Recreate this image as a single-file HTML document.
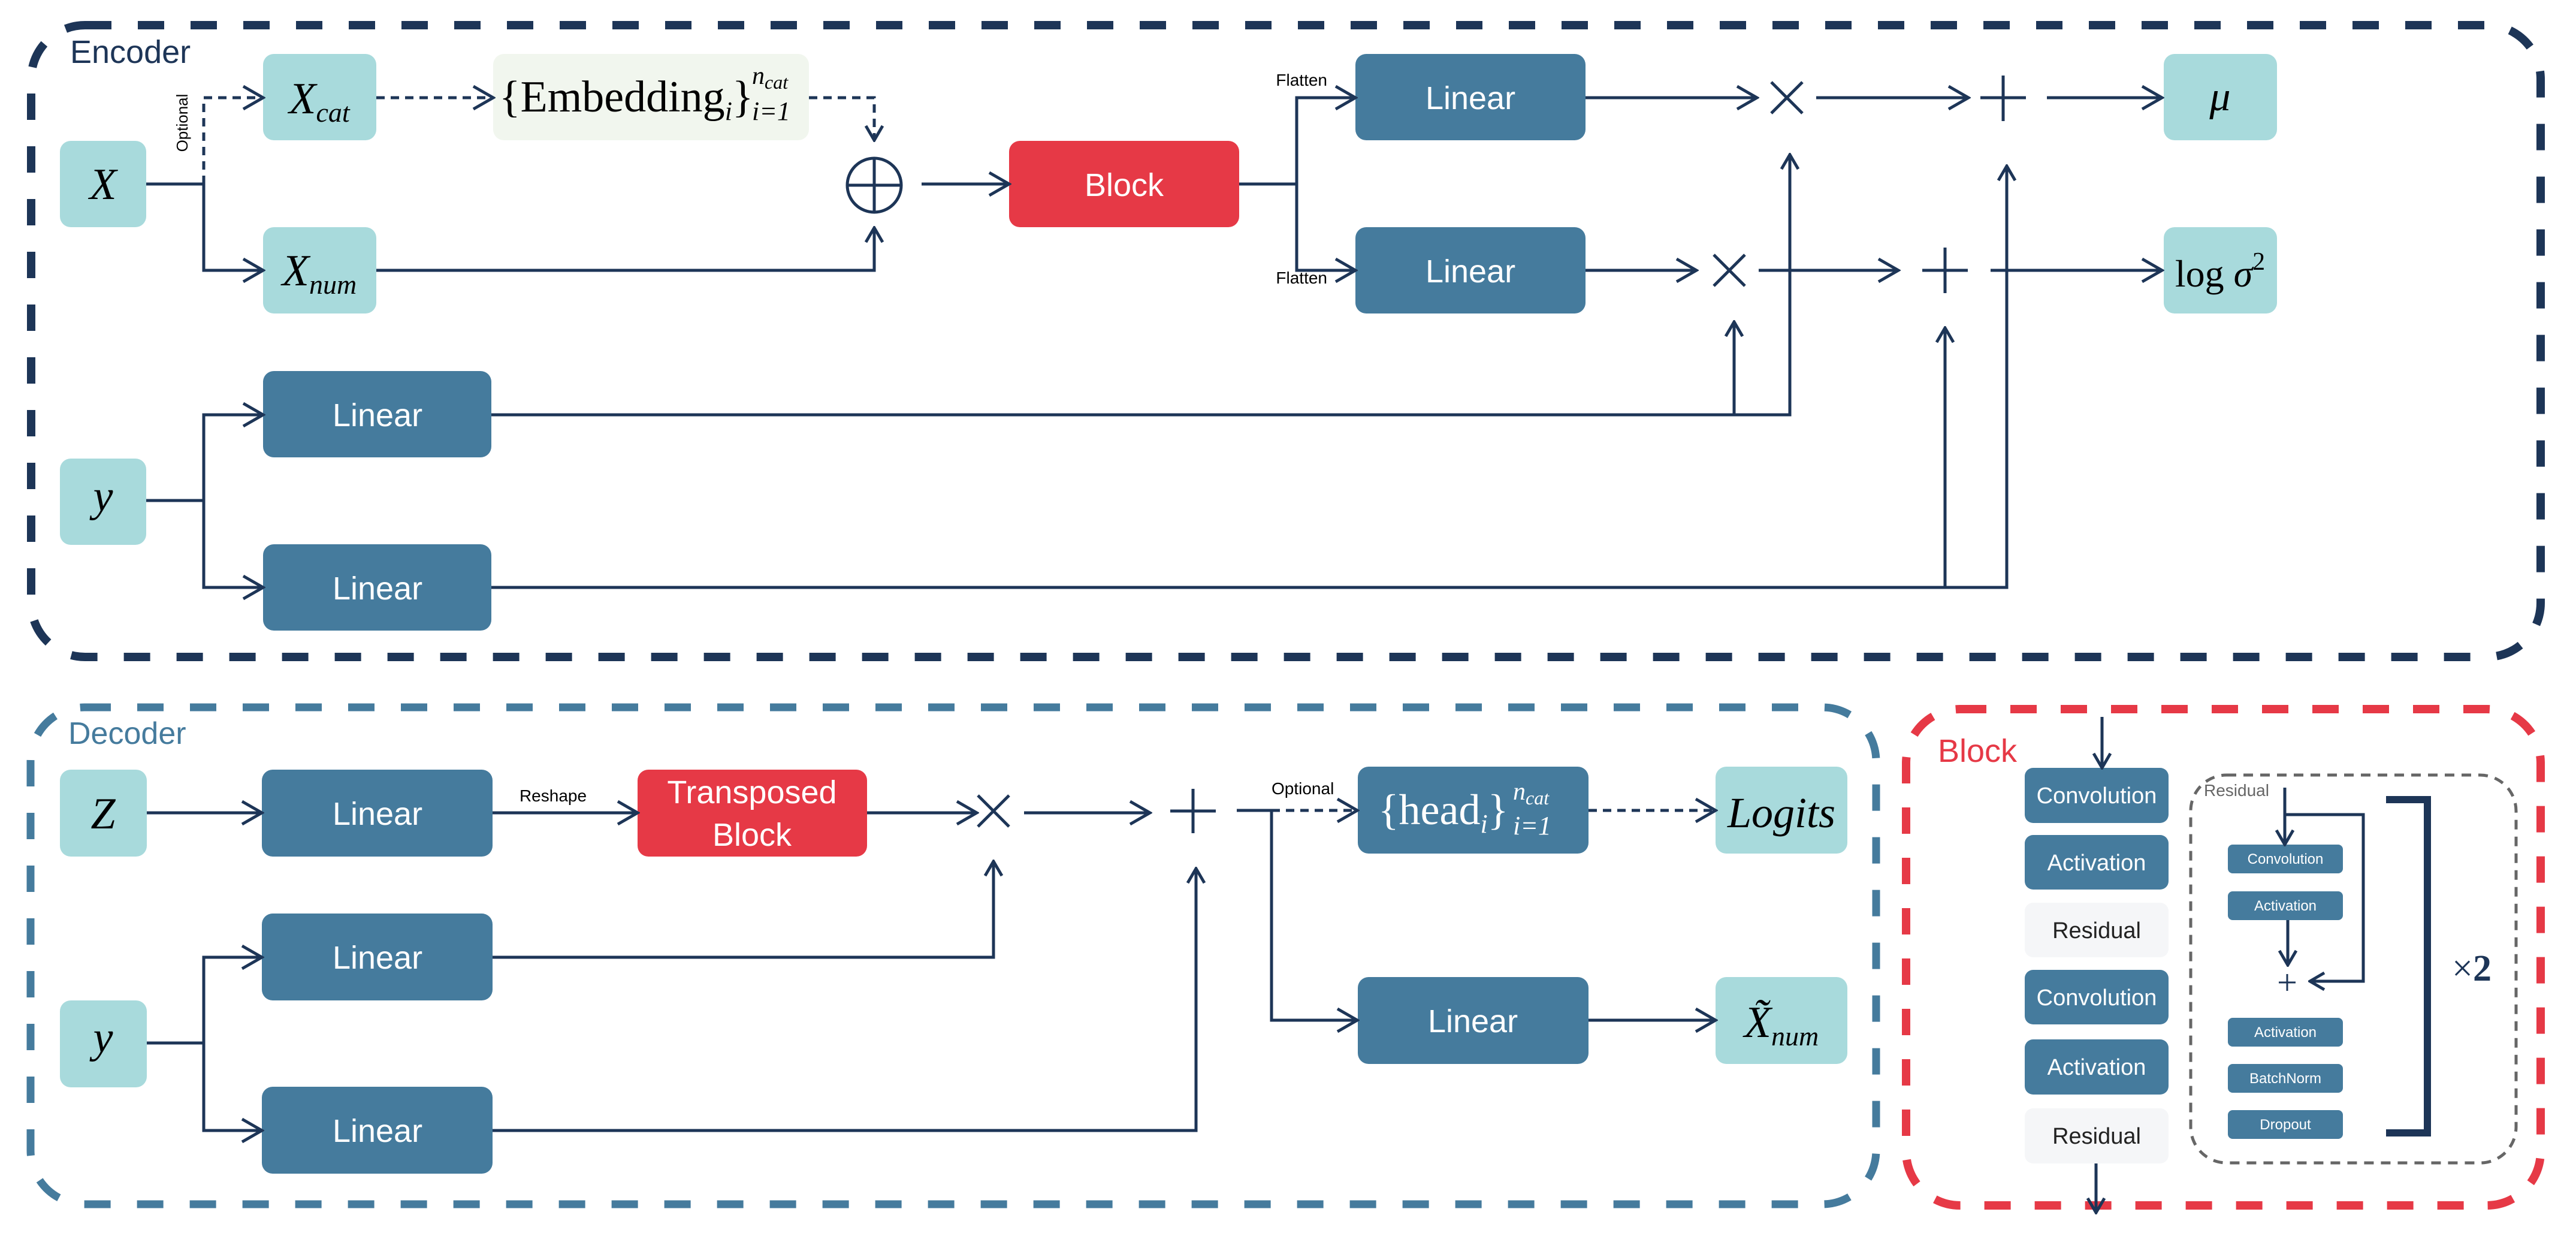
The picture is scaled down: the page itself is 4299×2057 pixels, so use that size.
<!DOCTYPE html>
<html><head><meta charset="utf-8"><style>html,body{margin:0;padding:0;background:#fff}svg{display:block}</style></head>
<body>
<svg xmlns="http://www.w3.org/2000/svg" width="4299" height="2057" viewBox="0 0 4299 2057">
<defs>
<marker id="a" markerUnits="userSpaceOnUse" markerWidth="40" markerHeight="44" viewBox="0 0 40 44" refX="36" refY="22" orient="auto">
<path d="M3,3 L36,22 L3,41" fill="none" stroke="#1D3557" stroke-width="5"/>
</marker>
<marker id="s" markerUnits="userSpaceOnUse" markerWidth="30" markerHeight="34" viewBox="0 0 30 34" refX="27" refY="17" orient="auto">
<path d="M3,3 L27,17 L3,31" fill="none" stroke="#1D3557" stroke-width="5"/>
</marker>
</defs>
<g font-family="Liberation Sans, sans-serif">
<!-- Encoder -->
<rect x="52" y="42" width="4188" height="1054" rx="90" fill="none" stroke="#1D3557" stroke-width="14" stroke-dasharray="44 44"/>
<text x="117" y="105" font-size="54" fill="#1D3557">Encoder</text>

<g fill="#A8DADC">
<rect x="100" y="235" width="144" height="144" rx="18"/>
<rect x="439" y="90" width="189" height="144" rx="18"/>
<rect x="439" y="379" width="189" height="144" rx="18"/>
<rect x="100" y="765" width="144" height="144" rx="18"/>
<rect x="3611" y="90" width="189" height="144" rx="18"/>
<rect x="3611" y="379" width="189" height="144" rx="18"/>
</g>
<rect x="823" y="90" width="527" height="144" rx="18" fill="#F1F6EE"/>
<rect x="1684" y="235" width="384" height="144" rx="18" fill="#E63946"/>
<g fill="#457B9D">
<rect x="2262" y="90" width="384" height="144" rx="18"/>
<rect x="2262" y="379" width="384" height="144" rx="18"/>
<rect x="439" y="619" width="381" height="144" rx="18"/>
<rect x="439" y="908" width="381" height="144" rx="18"/>
</g>

<g font-family="Liberation Serif, serif" fill="#000" text-anchor="middle">
<text x="172" y="332" font-size="74" font-style="italic">X</text>
<text x="533" y="189" font-size="74"><tspan font-style="italic">X</tspan><tspan font-size="46" font-style="italic" dy="14">cat</tspan></text>
<text x="533" y="476" font-size="74"><tspan font-style="italic">X</tspan><tspan font-size="46" font-style="italic" dy="14">num</tspan></text>
<text x="172" y="852" font-size="74" font-style="italic">y</text>
<text x="3705" y="184" font-size="70" font-style="italic">μ</text>
<text x="3705" y="478" font-size="64">log <tspan font-style="italic">σ</tspan><tspan font-size="42" dy="-28">2</tspan></text>
</g>
<g font-family="Liberation Serif, serif" fill="#000">
<text x="833" y="186" font-size="74">{Embedding<tspan font-size="44" font-style="italic" dy="14">i</tspan><tspan dy="-14">}</tspan></text>
<text x="1255" y="140" font-size="42" font-style="italic">n<tspan font-size="32" dy="8">cat</tspan></text>
<text x="1255" y="200" font-size="44" font-style="italic">i=1</text>
</g>
<text x="1876" y="327" font-size="54" fill="#fff" text-anchor="middle">Block</text>
<g font-size="54" fill="#fff" text-anchor="middle">
<text x="2454" y="182">Linear</text>
<text x="2454" y="471">Linear</text>
<text x="630" y="711">Linear</text>
<text x="630" y="1000">Linear</text>
</g>
<text transform="translate(313,205) rotate(-90)" font-size="26" text-anchor="middle" fill="#000">Optional</text>
<text x="2215" y="143" font-size="28" text-anchor="end" fill="#000">Flatten</text>
<text x="2215" y="473" font-size="28" text-anchor="end" fill="#000">Flatten</text>

<g stroke="#1D3557" stroke-width="5" fill="none">
<line x1="244" y1="307" x2="340" y2="307"/>
<polyline points="340,307 340,451 439,451" marker-end="url(#a)"/>
<polyline points="340,307 340,163 439,163" stroke-dasharray="14 10" marker-end="url(#a)"/>
<line x1="628" y1="163" x2="823" y2="163" stroke-dasharray="14 10" marker-end="url(#a)"/>
<polyline points="1350,163 1459,163 1459,234" stroke-dasharray="14 10" marker-end="url(#s)"/>
<circle cx="1459" cy="309" r="45"/>
<line x1="1414" y1="309" x2="1504" y2="309"/>
<line x1="1459" y1="264" x2="1459" y2="354"/>
<polyline points="628,451 1459,451 1459,380" marker-end="url(#s)"/>
<line x1="1538" y1="307" x2="1684" y2="307" marker-end="url(#a)"/>
<line x1="2068" y1="307" x2="2164" y2="307"/>
<polyline points="2164,307 2164,163 2262,163" marker-end="url(#a)"/>
<polyline points="2164,307 2164,451 2262,451" marker-end="url(#a)"/>
<line x1="2646" y1="163" x2="2932" y2="163" marker-end="url(#a)"/>
<line x1="2956" y1="137" x2="3008" y2="189"/><line x1="3008" y1="137" x2="2956" y2="189"/>
<line x1="3031" y1="163" x2="3285" y2="163" marker-end="url(#a)"/>
<line x1="3305" y1="163" x2="3381" y2="163"/><line x1="3343" y1="126" x2="3343" y2="202"/>
<line x1="3416" y1="163" x2="3608" y2="163" marker-end="url(#a)"/>
<line x1="2646" y1="451" x2="2831" y2="451" marker-end="url(#a)"/>
<line x1="2860" y1="425" x2="2912" y2="477"/><line x1="2912" y1="425" x2="2860" y2="477"/>
<line x1="2935" y1="451" x2="3168" y2="451" marker-end="url(#a)"/>
<line x1="3208" y1="451" x2="3284" y2="451"/><line x1="3246" y1="413" x2="3246" y2="489"/>
<line x1="3322" y1="451" x2="3608" y2="451" marker-end="url(#a)"/>
<line x1="244" y1="835" x2="340" y2="835"/>
<polyline points="340,835 340,692 439,692" marker-end="url(#a)"/>
<polyline points="340,835 340,980 439,980" marker-end="url(#a)"/>
<polyline points="820,692 2987,692 2987,258" marker-end="url(#s)"/>
<polyline points="2894,692 2894,537" marker-end="url(#s)"/>
<polyline points="820,980 3349,980 3349,277" marker-end="url(#s)"/>
<polyline points="3246,980 3246,547" marker-end="url(#s)"/>
</g>

<!-- Decoder -->
<rect x="51" y="1180" width="3080" height="829" rx="90" fill="none" stroke="#457B9D" stroke-width="13" stroke-dasharray="44 44"/>
<text x="114" y="1241" font-size="52" fill="#457B9D">Decoder</text>
<g fill="#A8DADC">
<rect x="100" y="1284" width="145" height="145" rx="18"/>
<rect x="100" y="1669" width="145" height="145" rx="18"/>
<rect x="2863" y="1279" width="220" height="145" rx="18"/>
<rect x="2863" y="1630" width="220" height="145" rx="18"/>
</g>
<g fill="#457B9D">
<rect x="437" y="1284" width="385" height="145" rx="18"/>
<rect x="437" y="1524" width="385" height="145" rx="18"/>
<rect x="437" y="1813" width="385" height="145" rx="18"/>
<rect x="2266" y="1279" width="385" height="145" rx="18"/>
<rect x="2266" y="1630" width="385" height="145" rx="18"/>
</g>
<rect x="1064" y="1284" width="383" height="145" rx="18" fill="#E63946"/>
<g font-size="54" fill="#fff" text-anchor="middle">
<text x="630" y="1376">Linear</text>
<text x="630" y="1616">Linear</text>
<text x="630" y="1905">Linear</text>
<text x="2458" y="1722">Linear</text>
<text x="1255" y="1340">Transposed</text>
<text x="1255" y="1411">Block</text>
</g>
<g font-family="Liberation Serif, serif" text-anchor="middle">
<text x="172" y="1382" font-size="74" font-style="italic">Z</text>
<text x="172" y="1755" font-size="74" font-style="italic">y</text>
<text x="2973" y="1380" font-size="72" font-style="italic">Logits</text>
<text x="2973" y="1730" font-size="74"><tspan font-style="italic">X̃</tspan><tspan font-size="46" font-style="italic" dy="14">num</tspan></text>
</g>
<g font-family="Liberation Serif, serif" fill="#fff">
<text x="2300" y="1375" font-size="72">{head<tspan font-size="44" font-style="italic" dy="14">i</tspan><tspan dy="-14">}</tspan></text>
<text x="2525" y="1334" font-size="42" font-style="italic">n<tspan font-size="32" dy="8">cat</tspan></text>
<text x="2525" y="1392" font-size="44" font-style="italic">i=1</text>
</g>
<text x="923" y="1337" font-size="28" text-anchor="middle" fill="#000">Reshape</text>
<text x="2122" y="1325" font-size="28" fill="#000">Optional</text>
<g stroke="#1D3557" stroke-width="5" fill="none">
<line x1="245" y1="1356" x2="437" y2="1356" marker-end="url(#a)"/>
<line x1="822" y1="1356" x2="1064" y2="1356" marker-end="url(#a)"/>
<line x1="1447" y1="1356" x2="1630" y2="1356" marker-end="url(#a)"/>
<line x1="1632" y1="1327" x2="1684" y2="1379"/><line x1="1684" y1="1327" x2="1632" y2="1379"/>
<line x1="1709" y1="1356" x2="1919" y2="1356" marker-end="url(#a)"/>
<line x1="1953" y1="1353" x2="2029" y2="1353"/><line x1="1991" y1="1316" x2="1991" y2="1390"/>
<line x1="2064" y1="1352" x2="2122" y2="1352"/>
<line x1="2122" y1="1352" x2="2265" y2="1352" stroke-dasharray="14 10" marker-end="url(#a)"/>
<line x1="2651" y1="1352" x2="2863" y2="1352" stroke-dasharray="14 10" marker-end="url(#a)"/>
<polyline points="2122,1352 2122,1702 2265,1702" marker-end="url(#a)"/>
<line x1="2651" y1="1702" x2="2863" y2="1702" marker-end="url(#a)"/>
<line x1="245" y1="1740" x2="340" y2="1740"/>
<polyline points="340,1740 340,1597 437,1597" marker-end="url(#a)"/>
<polyline points="340,1740 340,1886 437,1886" marker-end="url(#a)"/>
<polyline points="822,1597 1658,1597 1658,1437" marker-end="url(#s)"/>
<polyline points="822,1886 1996,1886 1996,1449" marker-end="url(#s)"/>
</g>

<!-- Block -->
<rect x="3181" y="1183" width="1059" height="828" rx="90" fill="none" stroke="#E63946" stroke-width="14" stroke-dasharray="44 40"/>
<text x="3234" y="1271" font-size="54" fill="#E63946">Block</text>
<g fill="#457B9D">
<rect x="3379" y="1281" width="240" height="92" rx="14"/>
<rect x="3379" y="1393" width="240" height="91" rx="14"/>
<rect x="3379" y="1618" width="240" height="91" rx="14"/>
<rect x="3379" y="1734" width="240" height="92" rx="14"/>
<rect x="3718" y="1409" width="192" height="48" rx="8"/>
<rect x="3718" y="1487" width="192" height="48" rx="8"/>
<rect x="3718" y="1698" width="192" height="48" rx="8"/>
<rect x="3718" y="1775" width="192" height="48" rx="8"/>
<rect x="3718" y="1852" width="192" height="48" rx="8"/>
</g>
<g fill="#F5F6F8">
<rect x="3379" y="1506" width="240" height="91" rx="14"/>
<rect x="3379" y="1849" width="240" height="92" rx="14"/>
</g>
<g font-size="38" text-anchor="middle" fill="#fff">
<text x="3499" y="1340">Convolution</text>
<text x="3499" y="1452">Activation</text>
<text x="3499" y="1677">Convolution</text>
<text x="3499" y="1793">Activation</text>
<text x="3499" y="1565" fill="#222">Residual</text>
<text x="3499" y="1908" fill="#222">Residual</text>
</g>
<g font-size="24" text-anchor="middle" fill="#fff">
<text x="3814" y="1441">Convolution</text>
<text x="3814" y="1519">Activation</text>
<text x="3814" y="1730">Activation</text>
<text x="3814" y="1807">BatchNorm</text>
<text x="3814" y="1884">Dropout</text>
</g>
<rect x="3656" y="1293" width="543" height="647" rx="60" fill="none" stroke="#666" stroke-width="5" stroke-dasharray="16 12"/>
<text x="3678" y="1328" font-size="28" fill="#666">Residual</text>
<g stroke="#1D3557" stroke-width="5" fill="none">
<line x1="3508" y1="1196" x2="3508" y2="1281" marker-end="url(#s)"/>
<line x1="3498" y1="1941" x2="3498" y2="2023" marker-end="url(#s)"/>
<line x1="3813" y1="1314" x2="3813" y2="1409" marker-end="url(#s)"/>
<polyline points="3813,1359 3944,1359 3944,1637 3855,1637" marker-end="url(#s)"/>
<line x1="3818" y1="1535" x2="3818" y2="1610" marker-end="url(#s)"/>
<line x1="3803" y1="1639" x2="3831" y2="1639" stroke-width="3"/>
<line x1="3817" y1="1625" x2="3817" y2="1653" stroke-width="3"/>
<polyline points="3982,1334 4051,1334 4051,1890 3982,1890" stroke-width="12"/>
</g>
<text x="4092" y="1636" font-family="Liberation Serif, serif" font-size="62" fill="#1D3557">×<tspan font-weight="bold">2</tspan></text>
</g>
</svg>
</body></html>
